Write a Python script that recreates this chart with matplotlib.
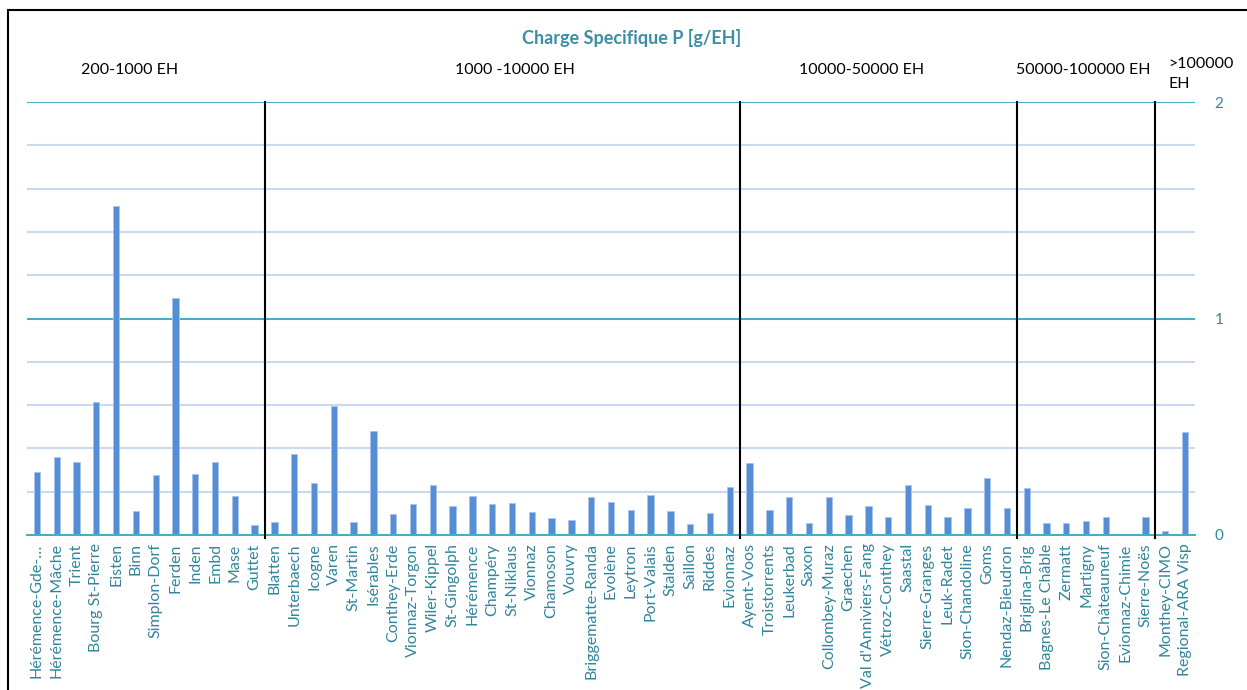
import matplotlib
matplotlib.use("Agg")
import matplotlib.pyplot as plt
from matplotlib.patches import Rectangle

plt.rcParams['font.family'] = ['Lato', 'DejaVu Sans']

# Plants grouped by size class (EH)
group_200_1000 = ["Hérémence-Gde-…", "Hérémence-Mâche", "Trient", "Bourg St-Pierre", "Eisten",
                  "Binn", "Simplon-Dorf", "Ferden", "Inden", "Embd", "Mase", "Guttet"]
group_1000_10000 = ["Blatten", "Unterbaech", "Icogne", "Varen", "St-Martin", "Isérables",
                    "Conthey-Erde", "Vionnaz-Torgon", "Wiler-Kippel", "St-Gingolph", "Hérémence",
                    "Champéry", "St-Niklaus", "Vionnaz", "Chamoson", "Vouvry", "Briggematte-Randa",
                    "Evolène", "Leytron", "Port-Valais", "Stalden", "Saillon", "Riddes", "Evionnaz"]
group_10000_50000 = ["Ayent-Voos", "Troistorrents", "Leukerbad", "Saxon", "Collombey-Muraz",
                     "Graechen", "Val d'Anniviers-Fang", "Vétroz-Conthey", "Saastal",
                     "Sierre-Granges", "Leuk-Radet", "Sion-Chandoline", "Goms", "Nendaz-Bieudron"]
group_50000_100000 = ["Briglina-Brig", "Bagnes-Le Châble", "Zermatt", "Martigny",
                      "Sion-Châteauneuf", "Evionnaz-Chimie", "Sierre-Noës"]
group_over_100000 = ["Monthey-CIMO", "Regional-ARA Visp"]

# Specific P load [g/EH]
values_200_1000 = [0.29, 0.36, 0.335, 0.615, 1.52, 0.112, 0.277, 1.095, 0.282, 0.335, 0.18, 0.045]
values_1000_10000 = [0.06, 0.374, 0.239, 0.596, 0.06, 0.48, 0.097, 0.143, 0.231, 0.132, 0.18,
                     0.143, 0.148, 0.108, 0.077, 0.068, 0.175, 0.151, 0.115, 0.183, 0.111,
                     0.052, 0.10, 0.222]
values_10000_50000 = [0.333, 0.115, 0.175, 0.055, 0.175, 0.092, 0.136, 0.085, 0.231, 0.139,
                      0.085, 0.125, 0.262, 0.125]
values_50000_100000 = [0.219, 0.055, 0.055, 0.065, 0.082, 0.006, 0.085]
values_over_100000 = [0.017, 0.476]

group_titles = ["200-1000 EH", "1000 -10000 EH", "10000-50000 EH", "50000-100000 EH", ">100000\nEH"]

groups = [group_200_1000, group_1000_10000, group_10000_50000, group_50000_100000, group_over_100000]
values = [values_200_1000, values_1000_10000, values_10000_50000, values_50000_100000, values_over_100000]
names = [n for g in groups for n in g]
loads = [v for g in values for v in g]

W, H = 1247, 690
fig = plt.figure(figsize=(W / 100, H / 100), dpi=100)
fig.patch.set_facecolor("white")
ax = fig.add_axes([27 / W, 1 - 535 / H, (1195 - 27) / W, (535 - 102) / H])

teal = "#4BACC6"
label_col = "#31859C"
bar_col = "#558ED5"

x = list(range(len(names)))
ax.set_xlim(-0.5, len(names) - 0.5)
ax.set_ylim(0, 2)

# gridlines: light every 0.2, teal at whole units
for k in range(1, 10):
    yv = k * 0.2
    if k % 5 == 0:
        continue
    ax.axhline(yv, color="#C9D9EF", lw=1.5, zorder=0)
for yv in (1, 2):
    ax.axhline(yv, color=teal, lw=1.5, zorder=0)

ax.bar(x, loads, width=0.32, color=bar_col, edgecolor="#A9C4EB", linewidth=0.6, zorder=3)

for s in ax.spines.values():
    s.set_visible(False)
ax.axhline(0, color=teal, lw=1.5, zorder=4, clip_on=False)

ax.yaxis.tick_right()
ax.set_yticks([0, 1, 2])
ax.set_yticklabels(["0", "1", "2"])
ax.tick_params(axis="y", length=0, pad=14, labelcolor=label_col, labelsize=11)
ax.set_xticks(x)
ax.set_xticklabels(names, rotation=90, color=label_col, fontsize=11.5)
ax.tick_params(axis="x", length=0, pad=6)

# separators between size classes
bounds = []
pos = 0
for g in groups[:-1]:
    pos += len(g)
    bounds.append(pos - 0.5)
for b in bounds:
    ax.plot([b, b], [-0.015, 2], color="black", lw=1.5, clip_on=False, zorder=5)

# class titles above the plot
title_x = [130, 515, 862, 1083]
for t, px in zip(group_titles[:-1], title_x):
    fig.text(px / W, 1 - 70 / H, t, ha="center", va="center", fontsize=11.5, color="black")
fig.text(1168 / W, 1 - 74 / H, group_titles[-1], ha="left", va="center", fontsize=11.5,
         color="black", linespacing=1.55)

fig.text(632 / W, 1 - 38 / H, "Charge Specifique P [g/EH]", ha="center", va="center",
         fontsize=13, fontweight="bold", color="#3B8EA5")

# outer frame
fig.patches.append(Rectangle((8 / W, -0.1), 1.2, 1 - 10 / H + 0.1, transform=fig.transFigure,
                             fill=False, edgecolor="black", lw=1.5))

fig.savefig("out.png", dpi=100)
